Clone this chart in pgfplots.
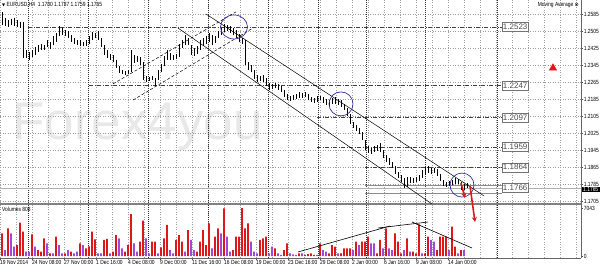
\documentclass[border=0pt]{standalone}
\usepackage{pgfplots}
\pgfplotsset{compat=1.18}
\usepackage{pgfplotstable}
\usetikzlibrary{arrows.meta}
\usepackage{fontspec}
\setmainfont{Liberation Sans}
\newfontfamily\mtf[FakeStretch=0.82]{Liberation Sans}
\newfontfamily\dejavu{DejaVu Sans}
\newcommand\mt{\mtf\fontsize{6}{7}\selectfont}
\definecolor{mtred}{RGB}{222,24,24}
\definecolor{mtpur}{RGB}{160,72,222}
\definecolor{ellc}{RGB}{50,50,160}

\pgfplotstableread{
x h l
2 1.2595 1.2533
5 1.2566 1.2529
8 1.2557 1.2524
11 1.2561 1.2533
14 1.2566 1.2529
17 1.2557 1.2524
20 1.2547 1.2519
23 1.2547 1.2378
26 1.2416 1.2378
29 1.2406 1.2369
32 1.2416 1.2383
35 1.2430 1.2392
38 1.2439 1.2406
41 1.2444 1.2416
44 1.2439 1.2416
47 1.2463 1.2430
50 1.2453 1.2420
53 1.2481 1.2439
56 1.2496 1.2453
59 1.2529 1.2481
62 1.2519 1.2486
65 1.2510 1.2481
68 1.2505 1.2472
71 1.2486 1.2453
74 1.2472 1.2444
77 1.2463 1.2439
80 1.2463 1.2434
83 1.2453 1.2434
86 1.2463 1.2434
89 1.2481 1.2444
92 1.2500 1.2463
95 1.2496 1.2472
98 1.2505 1.2463
101 1.2472 1.2430
104 1.2439 1.2392
107 1.2416 1.2378
110 1.2397 1.2369
113 1.2392 1.2359
116 1.2369 1.2331
119 1.2340 1.2308
122 1.2322 1.2303
125 1.2317 1.2298
128 1.2322 1.2303
131 1.2416 1.2312
134 1.2392 1.2355
137 1.2387 1.2359
140 1.2383 1.2345
143 1.2359 1.2274
146 1.2293 1.2265
149 1.2289 1.2270
152 1.2293 1.2274
155 1.2284 1.2246
158 1.2322 1.2274
161 1.2350 1.2312
164 1.2387 1.2340
167 1.2416 1.2369
170 1.2402 1.2369
173 1.2392 1.2369
176 1.2397 1.2373
179 1.2444 1.2383
182 1.2463 1.2425
185 1.2486 1.2439
188 1.2472 1.2439
191 1.2439 1.2392
194 1.2425 1.2387
197 1.2434 1.2397
200 1.2463 1.2416
203 1.2472 1.2434
206 1.2481 1.2444
209 1.2496 1.2453
212 1.2486 1.2439
215 1.2481 1.2449
218 1.2505 1.2472
221 1.2519 1.2486
224 1.2538 1.2500
227 1.2533 1.2505
230 1.2529 1.2496
233 1.2519 1.2486
236 1.2510 1.2472
239 1.2491 1.2453
242 1.2472 1.2444
245 1.2463 1.2345
248 1.2359 1.2322
251 1.2345 1.2312
254 1.2322 1.2279
257 1.2298 1.2265
260 1.2293 1.2270
263 1.2298 1.2265
266 1.2284 1.2246
269 1.2260 1.2227
272 1.2256 1.2232
275 1.2260 1.2237
278 1.2256 1.2227
281 1.2246 1.2218
284 1.2227 1.2194
287 1.2209 1.2180
290 1.2199 1.2176
293 1.2204 1.2180
296 1.2209 1.2185
299 1.2218 1.2190
302 1.2213 1.2190
305 1.2218 1.2194
308 1.2209 1.2180
311 1.2194 1.2171
314 1.2190 1.2166
317 1.2199 1.2171
320 1.2199 1.2180
323 1.2194 1.2166
326 1.2185 1.2157
329 1.2180 1.2152
332 1.2190 1.2162
335 1.2194 1.2162
338 1.2185 1.2157
341 1.2180 1.2147
344 1.2162 1.2133
347 1.2143 1.2105
350 1.2115 1.2067
353 1.2077 1.2049
356 1.2063 1.2034
359 1.2049 1.2020
362 1.2030 1.1992
365 1.1992 1.1945
368 1.1964 1.1931
371 1.1955 1.1926
374 1.1964 1.1936
377 1.1969 1.1940
380 1.1978 1.1936
383 1.1945 1.1907
386 1.1922 1.1889
389 1.1907 1.1874
392 1.1889 1.1860
395 1.1870 1.1832
398 1.1842 1.1813
401 1.1827 1.1794
404 1.1813 1.1766
407 1.1818 1.1771
410 1.1818 1.1790
413 1.1813 1.1790
416 1.1818 1.1794
419 1.1827 1.1799
422 1.1851 1.1813
425 1.1865 1.1827
428 1.1870 1.1837
431 1.1860 1.1832
434 1.1860 1.1837
437 1.1856 1.1823
440 1.1832 1.1799
443 1.1804 1.1776
446 1.1794 1.1771
449 1.1799 1.1776
452 1.1804 1.1780
455 1.1813 1.1785
458 1.1809 1.1785
461 1.1794 1.1757
464 1.1785 1.1757
467 1.1790 1.1766
}\bars

\pgfplotstableread{
x v
2 3325
8 4060
17 1610
20 4890
23 3570
32 3180
38 880
41 635
44 2590
50 390
56 2840
65 390
71 635
80 1860
86 1125
89 1400
92 3570
95 2450
104 2350
107 2500
113 635
116 3080
125 635
128 1610
131 6160
140 2100
143 5180
152 2100
155 2100
161 1270
164 2590
167 4550
176 2350
179 3080
182 2100
188 3810
197 635
200 2100
203 3810
206 1610
209 4790
215 2840
218 4060
224 6990
233 880
236 2840
239 2840
242 7040
245 4060
248 4790
260 2350
263 2590
266 2840
275 1125
284 880
287 1860
299 390
305 150
308 290
311 390
314 150
320 1860
329 390
332 1610
335 1370
341 390
344 1125
347 1125
350 1125
356 2100
362 2100
365 2100
368 2840
377 390
380 2350
386 4060
395 3325
398 2100
401 390
407 2590
413 635
416 390
419 4650
425 390
428 2840
437 880
440 2840
443 2840
446 2840
452 4300
455 1370
461 880
}\volred

\pgfplotstableread{
x v
5 880
11 3325
14 1370
26 635
29 635
35 1370
47 1860
53 390
59 1610
62 390
68 880
74 390
77 635
83 1610
98 390
101 390
110 390
119 2590
122 1125
134 1860
137 635
146 2590
149 390
158 390
170 880
173 390
185 635
191 2350
194 880
212 1125
221 3325
227 2840
230 635
251 2100
254 635
257 390
269 390
272 1370
278 390
281 150
290 390
293 245
296 150
302 390
317 150
323 880
326 635
338 390
353 880
359 1610
371 1860
374 1860
383 1125
389 1125
392 880
404 880
410 635
422 390
431 2350
434 2100
449 880
458 390
464 880
}\volpur

\pgfplotsset{
  mtgrid/.style={draw=black!38, dash pattern=on 1pt off 1.5pt, line width=0.4pt},
  mtsep/.style={draw=black!80, dash pattern=on 1pt off 1pt, line width=0.6pt},
  lvl/.style={draw=black!75, line width=0.7pt, dash pattern=on 4pt off 1.5pt on 1pt off 1.5pt},
}

\begin{document}
\begin{tikzpicture}
\useasboundingbox (0pt,0pt) rectangle (600pt,-268pt);
\fill[white] (0pt,0pt) rectangle (600pt,-268pt);
\node[anchor=base west, inner sep=0pt, text=black!9, font=\fontsize{53}{60}\selectfont] at (12pt,-139pt) {Forex4you};

% ---------- volume pane ----------
\begin{axis}[
  at={(0pt,-205pt)}, anchor=north west, scale only axis,
  width=581pt, height=53pt,
  xmin=0, xmax=581, ymin=-293, ymax=7482,
  clip=false,
  axis line style={draw=none},
  xtick={0,32,...,448},
  xticklabels={19 Nov 2014,24 Nov 08:00,27 Nov 00:00,1 Dec 16:00,4 Dec 08:00,9 Dec 00:00,11 Dec 16:00,16 Dec 08:00,19 Dec 00:00,23 Dec 16:00,29 Dec 08:00,2 Jan 00:00,6 Jan 16:00,9 Jan 08:00,14 Jan 00:00},
  minor xtick={16,32,...,576},
  xmajorgrids, xminorgrids,
  major grid style={mtgrid}, minor grid style={mtgrid},
  xtick pos=bottom, ytick pos=right, yticklabel pos=right,
  tick align=outside, major tick length=2pt, minor tick length=0pt,
  tick style={black!70, line width=0.4pt},
  ytick={0,7043}, yticklabels={0,7043},
  xticklabel style={font=\mt, anchor=north west, inner sep=0.5pt, xshift=-0.5pt},
  yticklabel style={font=\mt, anchor=west, inner sep=0.6pt},
]
\pgfplotsinvokeforeach{28,88,148,208,268,318,366,425,497}{
  \addplot[mtsep, forget plot] coordinates {(#1,-293) (#1,7482)};
}
\addplot[ybar, bar width=1.6, bar shift=0pt, fill=mtred, draw=none] table[x=x,y=v] {\volred};
\addplot[ybar, bar width=1.6, bar shift=0pt, fill=mtpur, draw=none] table[x=x,y=v] {\volpur};
\addplot[black, line width=0.6pt] coordinates {(298,587) (390,4400)};
\addplot[black, line width=0.6pt] coordinates {(378,4108) (428,4988)};
\addplot[black, line width=0.6pt] coordinates {(412,4988) (472,1174)};
\draw[black!50, line width=2.5pt] ([yshift=1.2pt]rel axis cs:0,1) -- ([yshift=1.2pt]rel axis cs:1,1);
\draw[black!60, line width=0.6pt] (rel axis cs:0,0) -- (rel axis cs:1,0);
\draw[black!60, line width=0.6pt] (rel axis cs:1,0) -- ([yshift=2.5pt]rel axis cs:1,1);
\end{axis}

% ---------- price pane ----------
\begin{axis}[
  at={(0pt,0pt)}, anchor=north west, scale only axis,
  width=581pt, height=203pt,
  xmin=0, xmax=581, ymin=1.16956, ymax=1.26509,
  clip=false,
  axis line style={draw=none},
  xtick={0,16,...,576}, xticklabel=\empty,
  ytick={1.1705,1.1785,1.1865,1.1945,1.2025,1.2105,1.2185,1.2265,1.2345,1.2425,1.2505,1.2585},
  yticklabels={1.1705,1.1785,1.1865,1.1945,1.2025,1.2105,1.2185,1.2265,1.2345,1.2425,1.2505,1.2585},
  grid=major, major grid style={mtgrid},
  ytick pos=right, yticklabel pos=right,
  tick align=outside, major tick length=2pt,
  xtick style={draw=none}, ytick style={black!70, line width=0.4pt},
  yticklabel style={font=\mt, anchor=west, inner sep=0.6pt},
]
\pgfplotsinvokeforeach{28,88,148,208,268,318,366,425,497}{
  \addplot[mtsep, forget plot] coordinates {(#1,1.16956) (#1,1.26509)};
}
% bid line and 1.1766 zone
\addplot[black!30, line width=0.6pt] coordinates {(0,1.1765) (581,1.1765)};
\addplot[black!45, line width=0.5pt] coordinates {(365,1.1780) (502,1.1780)};
\addplot[black!45, line width=0.5pt] coordinates {(365,1.1743) (502,1.1743)};
% level lines
\addplot[lvl] coordinates {(28,1.2523) (502,1.2523)};
\addplot[lvl] coordinates {(89,1.2247) (502,1.2247)};
\addplot[lvl] coordinates {(317,1.2097) (502,1.2097)};
\addplot[lvl] coordinates {(317,1.1959) (502,1.1959)};
\addplot[lvl] coordinates {(365,1.1864) (502,1.1864)};
% channels
\addplot[black, line width=0.5pt, dash pattern=on 3pt off 2pt] coordinates {(113,1.2256) (236,1.2595)};
\addplot[black, line width=0.5pt, dash pattern=on 3pt off 2pt] coordinates {(133,1.2180) (253,1.2519)};
\addplot[black, line width=0.5pt] coordinates {(206,1.2585) (484,1.1729)};
\addplot[black, line width=0.5pt] coordinates {(178,1.2519) (432,1.16909)};
% price bars
\addplot[draw=none, mark=none, forget plot, error bars/.cd, y dir=plus, y explicit, error mark=none,
  error bar style={draw=black, line width=0.8pt, solid}]
  table[x=x, y=l, y error expr=\thisrow{h}-\thisrow{l}] {\bars};
% circles
\draw[ellc, line width=0.7pt] (axis cs:234,1.2524) ellipse [x radius=13.5pt, y radius=12pt];
\draw[ellc, line width=0.7pt] (axis cs:341,1.2162) ellipse [x radius=12pt, y radius=12pt];
\draw[ellc, line width=0.7pt] (axis cs:462,1.1780) ellipse [x radius=12pt, y radius=12pt];
% red arrows
\addplot[mtred, line width=1.6pt, -{Stealth[length=5pt,width=5pt]}] coordinates {(461,1.1790) (465,1.1719)};
\addplot[mtred, line width=1.6pt, -{Stealth[length=5pt,width=5pt]}] coordinates {(470,1.1776) (475,1.1606)};
% red triangle
\addplot[only marks, mark=triangle*, mark size=4.3pt, mtred] coordinates {(553,1.2331)};
% level labels
\pgfplotsinvokeforeach{1.2523,1.2247,1.2097,1.1959,1.1864,1.1766}{
  \node[draw=black!55, fill=white, text=black!70, font=\fontsize{8}{9}\selectfont, inner sep=0pt,
        minimum width=26pt, minimum height=9pt, anchor=west] at (axis cs:502,#1) {#1};
}
\draw[black!60, line width=0.6pt] (rel axis cs:1,0) -- (rel axis cs:1,1);
\end{axis}

% texts
\node[anchor=west, inner sep=0pt, font=\mt] at (2pt,-5pt) {{\dejavu\fontsize{4}{5}\selectfont ▼} EURUSD,H4\ \ 1.1780 1.1787 1.1759 1.1765};
\node[anchor=east, inner sep=0pt, font=\mt] at (579pt,-4.5pt) {Moving Average {\dejavu\fontsize{5}{6}\selectfont ⊗}};
\node[anchor=west, inner sep=0pt, font=\mt] at (2pt,-209.5pt) {Volumes 808};
\node[anchor=west, fill=black, text=white, font=\mt, inner sep=0.3pt, minimum width=18pt] at (581.5pt,-189.5pt) {1.1765};
\end{tikzpicture}
\end{document}
